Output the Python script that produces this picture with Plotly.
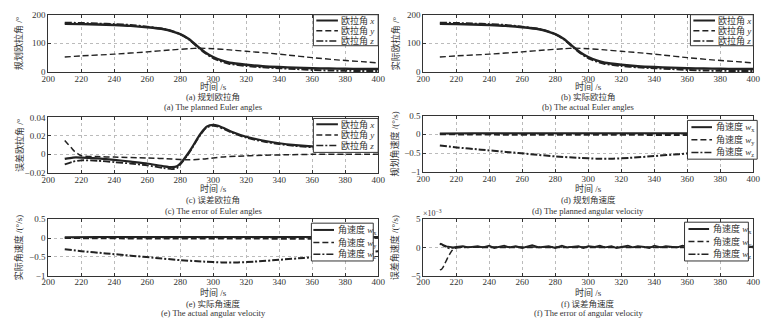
import plotly.graph_objects as go

W, H = 775, 329
FONT = "Liberation Serif, Noto Sans CJK SC, serif"
INK = "#222222"

# ---------------- data ----------------
# (a)/(b) Euler angles, deg
t_ex = [210, 220, 230, 240, 250, 260, 270, 275, 280, 285, 290, 295, 300, 305, 310, 320, 330, 340, 350, 360, 370, 380, 390, 400]
eul_x = [168, 167, 166, 164, 161, 156, 149, 142, 132, 116, 92, 69, 52, 40, 32, 25, 20, 17, 15, 13, 12, 11, 10, 10]
eul_z = [172, 171, 169, 167, 164, 158, 150, 143, 132, 115, 90, 66, 48, 36, 28, 21, 16, 13, 10, 7, 5, 4, 3, 3]
t_ey = [210, 220, 240, 260, 275, 285, 292, 300, 310, 320, 335, 345, 360, 375, 390, 400]
eul_y = [52, 56, 62, 70, 77, 81, 83, 81, 77, 72, 65, 59, 50, 42, 36, 31]

# (c) Euler angle errors, deg
t_cx = [210, 215, 220, 230, 240, 250, 260, 270, 275, 278, 281, 284, 287, 290, 293, 296, 300, 303, 307, 312, 320, 330, 340, 350, 365, 380, 400]
err_x = [-0.005, -0.0035, -0.0035, -0.0045, -0.006, -0.008, -0.010, -0.013, -0.014, -0.013, -0.008, -0.001, 0.007, 0.016, 0.024, 0.030, 0.032, 0.031, 0.028, 0.024, 0.019, 0.015, 0.012, 0.010, 0.008, 0.0065, 0.005]
err_z = [-0.011, -0.008, -0.0065, -0.007, -0.0085, -0.010, -0.012, -0.015, -0.016, -0.015, -0.009, -0.002, 0.006, 0.015, 0.023, 0.029, 0.031, 0.030, 0.027, 0.023, 0.018, 0.014, 0.011, 0.009, 0.007, 0.0055, 0.004]
t_cy = [210, 212, 214, 216, 218, 220, 230, 240, 260, 275, 285, 295, 305, 315, 330, 345, 360, 380, 400]
err_y = [0.015, 0.011, 0.007, 0.003, 0.0005, -0.0015, -0.0025, -0.003, -0.004, -0.005, -0.006, -0.005, -0.003, -0.002, -0.001, -0.0005, 0.0, 0.0, 0.0]

# (d)/(e) angular velocity, deg/s
t_w = [210, 230, 250, 270, 290, 310, 330, 350, 370, 390, 395, 400]
w_x = [0.02, 0.025, 0.025, 0.025, 0.03, 0.03, 0.03, 0.03, 0.03, 0.03, 0.03, 0.03]
w_y = [0.0, -0.005, -0.01, -0.01, -0.01, -0.015, -0.015, -0.02, -0.02, -0.02, 0.01, 0.02]
t_wz = [210, 220, 235, 250, 265, 280, 295, 305, 315, 325, 340, 355, 370, 385, 400]
w_z = [-0.30, -0.35, -0.41, -0.47, -0.53, -0.59, -0.63, -0.65, -0.65, -0.63, -0.58, -0.53, -0.47, -0.41, -0.35]

# (f) angular velocity error, x1e-3 deg/s
t_fx = [210, 212, 214, 216, 218, 220, 224, 227, 230, 233, 236, 240, 243, 246, 249, 252, 256, 260, 263, 266, 270, 273, 276, 280, 284, 287, 290, 294, 297, 300,
        304, 307, 310, 314, 317, 320, 324, 327, 330, 334, 337, 340, 344, 347, 350, 354, 357, 360, 364, 367, 370, 374, 377, 380, 384, 387, 390, 394, 397, 400]
e_wx = [0.7, 0.4, 0.2, 0.1, 0.0, 0.1, 0.2, 0.0, 0.1, 0.2, 0.0, 0.3, -0.1, 0.1, 0.3, 0.0, 0.2, -0.1, 0.2, 0.4, 0.0, 0.1, 0.2, -0.1, 0.3, 0.0, 0.1, 0.2, -0.1, 0.2,
        0.1, 0.3, 0.0, 0.2, -0.1, 0.1, 0.3, 0.0, 0.2, 0.1, -0.1, 0.3, 0.0, 0.2, 0.1, 0.0, 0.3, 0.1, -0.1, 0.2, 0.0, 0.3, 0.1, 0.0, 0.2, -0.1, 0.1, 0.3, 0.0, 0.2]
t_fy = [210, 211, 212, 213, 214, 215, 216, 217, 218, 219, 220, 225, 240, 260, 280, 300, 320, 340, 360, 380, 400]
e_wy = [-4.0, -3.9, -3.5, -2.9, -2.3, -1.7, -1.2, -0.7, -0.4, -0.2, -0.1, 0.0, 0.0, 0.0, 0.0, 0.0, 0.0, 0.0, 0.0, 0.0, 0.0]
t_fz = [210, 211, 212, 214, 216, 218, 220, 230, 250, 270, 290, 310, 330, 350, 370, 390, 400]
e_wz = [0.5, 0.6, 0.3, 0.0, -0.2, -0.1, 0.0, 0.05, 0.05, 0.05, 0.05, 0.05, 0.05, 0.05, 0.05, 0.05, 0.05]

x_ticks = [200, 220, 240, 260, 280, 300, 320, 340, 360, 380, 400]

# ---------------- layout helpers ----------------
def px_x(x):
    return x / W

def px_y(y):
    return 1 - y / H

# panel boxes in px: left, right, top, bottom
panels = [
    (42, 378, 10, 69),
    (424, 760, 10, 69),
    (42, 378, 116, 173),
    (424, 760, 114, 172),
    (42, 378, 221, 279),
    (424, 760, 221, 279),
]

DASH = "6px,3px"
DASHDOT = "7px,2px,2px,2px"

fig = go.Figure()

def add_line(i, t, v, dash, width):
    ax = "" if i == 0 else str(i + 1)
    fig.add_trace(go.Scatter(x=t, y=v, mode="lines", line=dict(color=INK, width=width, dash=dash, shape="spline", smoothing=0.6),
                             xaxis="x" + ax, yaxis="y" + ax, showlegend=False, hoverinfo="skip"))

for i in (0, 1):
    add_line(i, t_ey, eul_y, DASH, 1.4)
    add_line(i, t_ex, eul_z, DASHDOT, 2.0)
    add_line(i, t_ex, eul_x, "solid", 2.4)

add_line(2, t_cy, err_y, DASH, 1.5)
add_line(2, t_cx, err_z, DASHDOT, 1.8)
add_line(2, t_cx, err_x, "solid", 2.2)

for i in (3, 4):
    add_line(i, t_wz, w_z, DASHDOT, 2.0)
    add_line(i, t_w, w_y, DASH, 2.0)
    add_line(i, t_w, w_x, "solid", 2.0)

add_line(5, t_fy, e_wy, DASH, 1.5)
add_line(5, t_fz, e_wz, DASHDOT, 1.5)
fig.add_trace(go.Scatter(x=t_fx, y=e_wx, mode="lines", line=dict(color=INK, width=1.8),
                         xaxis="x6", yaxis="y6", showlegend=False, hoverinfo="skip"))

y_specs = [
    dict(range=[0, 200], tickvals=[0, 100, 200], ticktext=["0", "100", "200"]),
    dict(range=[0, 200], tickvals=[0, 100, 200], ticktext=["0", "100", "200"]),
    dict(range=[-0.02, 0.04], tickvals=[-0.02, 0, 0.02, 0.04], ticktext=["\u22120.02", "0", "0.02", "0.04"]),
    dict(range=[-1, 0.5], tickvals=[-1, -0.5, 0, 0.5], ticktext=["\u22121", "\u22120.5", "0", "0.5"]),
    dict(range=[-1, 0.5], tickvals=[-1, -0.5, 0, 0.5], ticktext=["\u22121", "\u22120.5", "0", "0.5"]),
    dict(range=[-5, 5], tickvals=[-5, 0, 5], ticktext=["\u22125", "0", "5"]),
]

axis_common = dict(showline=True, linecolor="#333", linewidth=1, mirror="ticks", ticks="inside", ticklen=3,
                   tickcolor="#333", showgrid=True, gridcolor="#bbbbbb", griddash="dot", gridwidth=1,
                   zeroline=False, tickfont=dict(family=FONT, size=9, color="#333"))

layout = dict(width=W, height=H, margin=dict(l=0, r=0, t=0, b=0), paper_bgcolor="white", plot_bgcolor="white",
              showlegend=False, font=dict(family=FONT, color="#333"))

for i, (l, r, tp, b) in enumerate(panels):
    ax = "" if i == 0 else str(i + 1)
    layout["xaxis" + ax] = dict(axis_common, domain=[px_x(l), px_x(r)], range=[200, 400], tickvals=x_ticks,
                                anchor="y" + ax, ticklabelstandoff=-2)
    layout["yaxis" + ax] = dict(axis_common, domain=[px_y(b), px_y(tp)], anchor="x" + ax, ticklabelstandoff=0, **y_specs[i])

fig.update_layout(**layout)

# ---------------- texts ----------------
def txt(x, y, s, size=9, angle=0, xanchor="center"):
    fig.add_annotation(x=px_x(x), y=px_y(y), xref="paper", yref="paper", text=s, showarrow=False,
                       font=dict(family=FONT, size=size, color="#333"), textangle=angle,
                       xanchor=xanchor, yanchor="middle")

ytitles = ["规划欧拉角 /°", "实际欧拉角 /°", "误差欧拉角 /°", "规划角速度 /(°/s)", "实际角速度 /(°/s)", "误差角速度 /(°/s)"]
cap_cn = ["(a) 规划欧拉角", "(b) 实际欧拉角", "(c) 误差欧拉角", "(d) 规划角速度", "(e) 实际角速度", "(f) 误差角速度"]
cap_en = ["(a) The planned Euler angles", "(b) The actual Euler angles", "(c) The error of Euler angles",
          "(d) The planned angular velocity", "(e) The actual angular velocity", "(f) The error of angular velocity"]
row_text_y = [(84, 95, 105.5), (84, 95, 105.5), (189, 201, 212), (189, 201, 212), (296, 308, 318), (296, 308, 318)]

for i, (l, r, tp, b) in enumerate(panels):
    cx = (l + r) / 2
    ty, c1, c2 = row_text_y[i]
    txt(cx, ty, "时间 /s")
    txt(cx, c1, cap_cn[i], size=8.5)
    txt(cx, c2, cap_en[i], size=8.5)
    yx = 12 if l < 100 else 395
    txt(yx, (tp + b) / 2, ytitles[i], angle=-90)

txt(433, 215, "×10<sup>−3</sup>", size=8)

# ---------------- legends ----------------
def legend(box, rows, labels, lx0, lx1, tx):
    x0, x1, y0, y1 = box
    fig.add_shape(type="rect", xref="paper", yref="paper", x0=px_x(x0), x1=px_x(x1), y0=px_y(y1), y1=px_y(y0),
                  line=dict(color="#333", width=1), fillcolor="white", layer="above")
    for ry, lab, dash in zip(rows, labels, ["solid", DASH, DASHDOT]):
        fig.add_shape(type="line", xref="paper", yref="paper", x0=px_x(lx0), x1=px_x(lx1), y0=px_y(ry), y1=px_y(ry),
                      line=dict(color=INK, width=2 if dash == "solid" else 1.5, dash=dash), layer="above")
        txt(tx, ry, lab, size=9, xanchor="left")

eul_labels = ["欧拉角 <i>x</i>", "欧拉角 <i>y</i>", "欧拉角 <i>z</i>"]
w_labels = ["角速度 <i>w</i><sub>x</sub>", "角速度 <i>w</i><sub>y</sub>", "角速度 <i>w</i><sub>z</sub>"]

legend((312, 378, 10, 42), (16, 26.5, 37), eul_labels, 315, 337, 338)
legend((696, 760, 10, 42), (16, 26.5, 37), eul_labels, 699, 721, 722)
legend((312, 378, 117, 152), (123, 134, 145), eul_labels, 315, 337, 338)
legend((693, 764, 119, 159), (126, 139, 152), w_labels, 697, 718, 720)
legend((310, 373, 225, 264), (232, 245, 257), w_labels, 312, 333, 335)
legend((690, 755, 224, 264), (231, 244, 257), w_labels, 694, 715, 717)

fig.write_html("out.html")
